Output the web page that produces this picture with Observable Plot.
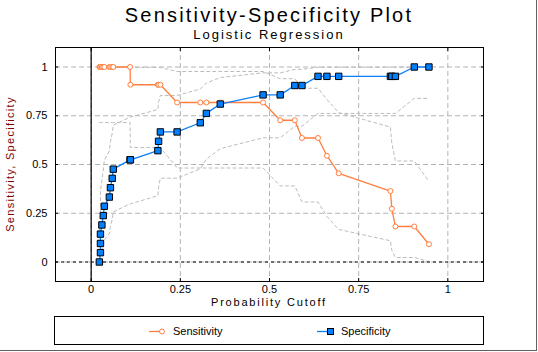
<!DOCTYPE html>
<html>
<head>
<meta charset="utf-8">
<script src="https://cdn.jsdelivr.net/npm/d3@7"></script>
<script src="https://cdn.jsdelivr.net/npm/@observablehq/plot@0.6"></script>
<style>
  body { margin: 0; background: #fff; }
  #wrap { position: relative; width: 538px; height: 352px; overflow: hidden; background: #fff;
          font-family: "Liberation Sans", Arial, sans-serif; color: #000; }
  #edge { position: absolute; left: 0; top: 0; width: 536px; height: 350px;
          border-right: 1px solid #606060; border-bottom: 1px solid #606060; box-sizing: content-box; }
  #title { position: absolute; left: 0; width: 538px; top: 3px; text-align: center;
           font-size: 20px; line-height: 24px; letter-spacing: 2.2px; }
  #subtitle { position: absolute; left: 0; width: 538px; top: 27px; text-align: center;
              font-size: 13px; line-height: 15px; letter-spacing: 2px; }
  #chart { position: absolute; left: 0; top: 40px; }
  #xlabel { position: absolute; left: 0; width: 538px; top: 295px; text-align: center;
            font-size: 11px; line-height: 14px; letter-spacing: 1.8px; }
  #ylabel { position: absolute; left: -90px; top: 157px; width: 200px; height: 14px; text-align: center;
            font-size: 11px; line-height: 14px; letter-spacing: 1.3px; color: #800000;
            transform: rotate(-90deg); transform-origin: 100px 7px; }
  #legend { position: absolute; left: 54px; top: 316px; width: 428px; height: 27px; border: 1px solid #000; }
  .item { position: absolute; top: 7px; font-size: 11px; line-height: 14px; }
  .item svg { position: absolute; top: 0; }
</style>
</head>
<body>
<div id="wrap">
  <div id="edge"></div>
  <div id="title">Sensitivity-Specificity Plot</div>
  <div id="subtitle">Logistic Regression</div>
  <div id="chart"></div>
  <div id="xlabel">Probability Cutoff</div>
  <div id="ylabel">Sensitivity, Specificity</div>
  <div id="legend">
    <div class="item" style="left:93px;">
      <svg width="20" height="14"><line x1="1" y1="7.5" x2="13" y2="7.5" stroke="#ff7f3f" stroke-width="1.3"/><circle cx="14" cy="7.5" r="2.5" fill="#fff" stroke="#ff7f3f"/></svg>
      <span style="position:absolute;left:25px;white-space:nowrap;">Sensitivity</span>
    </div>
    <div class="item" style="left:261px;">
      <svg width="20" height="14"><line x1="1" y1="7.5" x2="13" y2="7.5" stroke="#0a7ff5" stroke-width="1.3"/><rect x="11.5" y="4.5" width="6" height="6" fill="#0080ff" stroke="#000"/></svg>
      <span style="position:absolute;left:25px;white-space:nowrap;">Specificity</span>
    </div>
  </div>
</div>
<script>
// Probability cutoffs (x) and the two curves
const cutoff = [0.023,0.026,0.026,0.026,0.030,0.034,0.037,0.051,0.054,0.059,0.062,0.109,0.110,0.187,0.189,0.194,0.241,0.306,0.323,0.362,0.482,0.530,0.571,0.591,0.636,0.661,0.694,0.839,0.843,0.853,0.906,0.947];
const sensitivity = [1,1,1,1,1,1,1,1,1,1,1,1,0.909,0.909,0.909,0.909,0.818,0.818,0.818,0.818,0.818,0.727,0.727,0.636,0.636,0.545,0.455,0.364,0.273,0.182,0.182,0.091];
const specificity = [0,0.048,0.095,0.143,0.190,0.238,0.286,0.333,0.381,0.429,0.476,0.524,0.524,0.571,0.619,0.667,0.667,0.714,0.762,0.810,0.857,0.857,0.905,0.905,0.952,0.952,0.952,0.952,0.952,0.952,1,1];
// Confidence band lines (gray dotted)
const sensLower = [0.715,0.715,0.715,0.715,0.715,0.715,0.715,0.715,0.715,0.715,0.715,0.715,0.587,0.587,0.587,0.587,0.482,0.482,0.482,0.482,0.482,0.390,0.390,0.308,0.308,0.234,0.167,0.109,0.060,0.023,0.023,0.002];
const sensUpper = [1,1,1,1,1,1,1,1,1,1,1,1,0.998,0.998,0.998,0.998,0.977,0.977,0.977,0.977,0.977,0.940,0.940,0.891,0.891,0.833,0.766,0.692,0.610,0.518,0.518,0.413];
const specLower = [0,0.001,0.012,0.030,0.054,0.082,0.113,0.146,0.181,0.218,0.257,0.298,0.298,0.340,0.384,0.430,0.430,0.478,0.528,0.581,0.637,0.637,0.696,0.696,0.762,0.762,0.762,0.762,0.762,0.762,0.839,0.839];
const specUpper = [0.161,0.238,0.304,0.363,0.419,0.472,0.522,0.570,0.616,0.660,0.702,0.743,0.743,0.782,0.819,0.854,0.854,0.887,0.918,0.946,0.970,0.970,0.988,0.988,0.999,0.999,0.999,0.999,0.999,0.999,1,1];
// Tick values and labels
const xTicks = [0, 0.25, 0.5, 0.75, 1];
const xTickLabels = ["0", "0.25", "0.5", "0.75", "1"];
const yTicks = [0, 0.25, 0.5, 0.75, 1];
const yTickLabels = ["0", "0.25", "0.5", "0.75", "1"];

const rows = cutoff.map((x, i) => ({
  x, sens: sensitivity[i], spec: specificity[i],
  sl: sensLower[i], su: sensUpper[i], pl: specLower[i], pu: specUpper[i]
}));

const gridStyle = {stroke: "#b4b4b4", strokeOpacity: 1, strokeDasharray: "5,3", strokeWidth: 1};
const bandStyle = {stroke: "#bcbcbc", strokeDasharray: "3,3", strokeWidth: 1};
const xf = d => xTickLabels[xTicks.indexOf(d)];
const yf = d => yTickLabels[yTicks.indexOf(d)];

const chart = Plot.plot({
  width: 538, height: 275,
  marginTop: 7, marginBottom: 34, marginLeft: 55, marginRight: 55,
  x: {domain: [-0.1, 1.1]},
  y: {domain: [-0.1, 1.1]},
  style: {fontFamily: "Liberation Sans, Arial, sans-serif", fontSize: "11px", background: "transparent", color: "#000", overflow: "visible"},
  marks: [
    Plot.gridX(xTicks, gridStyle),
    Plot.gridY(yTicks, gridStyle),
    Plot.line(rows, {x: "x", y: "sl", ...bandStyle}),
    Plot.line(rows, {x: "x", y: "su", ...bandStyle}),
    Plot.line(rows, {x: "x", y: "pl", ...bandStyle}),
    Plot.line(rows, {x: "x", y: "pu", ...bandStyle}),
    Plot.ruleY([0], {stroke: "#000", strokeDasharray: "3,3", strokeWidth: 1}),
    Plot.ruleX([0], {stroke: "#000", strokeWidth: 1.2}),
    Plot.line(rows, {x: "x", y: "sens", stroke: "#ff7f3f", strokeWidth: 1.3}),
    Plot.line(rows, {x: "x", y: "spec", stroke: "#0a7ff5", strokeWidth: 1.3}),
    Plot.dot(rows, {x: "x", y: "sens", r: 2.5, stroke: "#ff7f3f", fill: "#fff", strokeWidth: 1}),
    Plot.dot(rows, {x: "x", y: "spec", symbol: "square", r: 3.6, fill: "#0080ff", stroke: "#000", strokeWidth: 1}),
    Plot.frame({stroke: "#000", strokeWidth: 1}),
    // tick labels
    Plot.axisX(xTicks, {anchor: "bottom", tickSize: 0, tickPadding: 4, tickFormat: xf, label: null}),
    Plot.axisY(yTicks, {anchor: "left", tickSize: 0, tickPadding: 8, tickFormat: yf, label: null}),
    // inward tick marks on all four sides
    Plot.axisX(xTicks, {anchor: "bottom", tickSize: 3, dy: -3, tickFormat: () => "", label: null}),
    Plot.axisX(xTicks, {anchor: "top", tickSize: 3, dy: 3, tickFormat: () => "", label: null}),
    Plot.axisY(yTicks, {anchor: "left", tickSize: 3, dx: 3, tickFormat: () => "", label: null}),
    Plot.axisY(yTicks, {anchor: "right", tickSize: 3, dx: -3, tickFormat: () => "", label: null})
  ]
});
document.getElementById("chart").appendChild(chart);
</script>
</body>
</html>
